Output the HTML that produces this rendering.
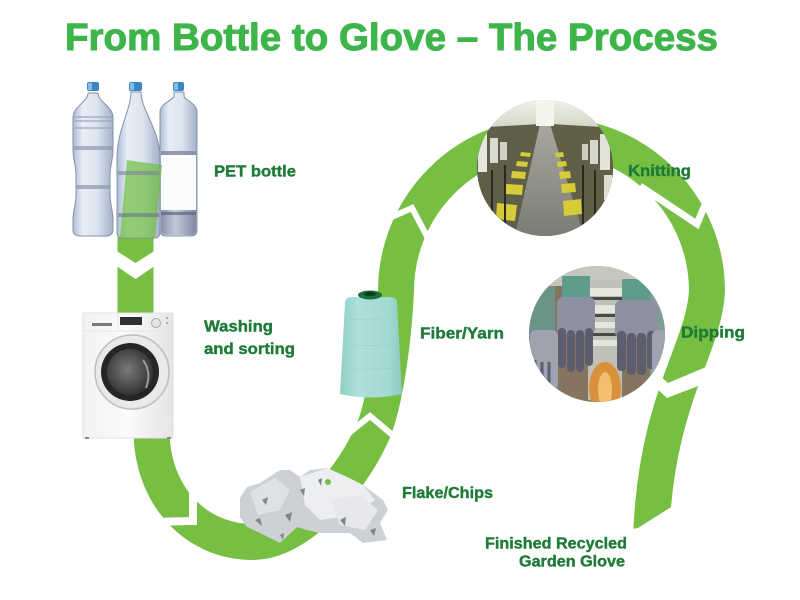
<!DOCTYPE html>
<html><head><meta charset="utf-8"><style>
html,body{margin:0;padding:0;background:#fff;}
svg{display:block;}
text{font-family:"Liberation Sans",Arial,sans-serif;font-weight:bold;}
</style></head><body>
<svg xmlns="http://www.w3.org/2000/svg" width="800" height="600" viewBox="0 0 800 600">
<defs>
 <linearGradient id="btl" x1="0" y1="0" x2="1" y2="0">
  <stop offset="0" stop-color="#aebdd3"/><stop offset="0.25" stop-color="#e7eef7"/><stop offset="0.6" stop-color="#dce4ef"/><stop offset="1" stop-color="#a3b1c8"/>
 </linearGradient>
 <linearGradient id="btlb" x1="0" y1="0" x2="1" y2="0">
  <stop offset="0" stop-color="#8791a8"/><stop offset="0.4" stop-color="#c3cad8"/><stop offset="1" stop-color="#7f8aa2"/>
 </linearGradient>
 <linearGradient id="yarn" x1="0" y1="0" x2="1" y2="0">
  <stop offset="0" stop-color="#8fcfc7"/><stop offset="0.3" stop-color="#aee0da"/><stop offset="0.8" stop-color="#a2d9d2"/><stop offset="1" stop-color="#8cc9c1"/>
 </linearGradient>
 <linearGradient id="mach" x1="0" y1="0" x2="1" y2="0">
  <stop offset="0" stop-color="#f2f2f2"/><stop offset="0.5" stop-color="#fbfbfb"/><stop offset="1" stop-color="#e4e4e4"/>
 </linearGradient>
 <radialGradient id="glass" cx="0.45" cy="0.45" r="0.6">
  <stop offset="0" stop-color="#7a7a7a"/><stop offset="1" stop-color="#2e2e2e"/>
 </radialGradient>
 <linearGradient id="ktop" x1="0" y1="0" x2="0" y2="1">
  <stop offset="0" stop-color="#f4f6ee"/><stop offset="1" stop-color="#d2d4c6"/>
 </linearGradient>
 <linearGradient id="floor" x1="0" y1="0" x2="0" y2="1">
  <stop offset="0" stop-color="#a8a8a0"/><stop offset="1" stop-color="#7a7a74"/>
 </linearGradient>
 <clipPath id="ck"><circle cx="545" cy="168" r="68"/></clipPath>
 <clipPath id="cd"><circle cx="597" cy="334" r="68"/></clipPath>
</defs>
<rect width="800" height="600" fill="#fff"/>

<!-- Green band -->
<path d="M135.5 226 V330 L151.5 400 V430 C151.5 495 195 542 253 542 C300 542 350 480 369 440 C383 415 393 350 396 291 A155.5 155.5 0 0 1 707 291 C704 350 655 400 651 540"
 fill="none" stroke="#76bf43" stroke-width="36"/>

<!-- White gaps (chevrons) -->
<polygon points="112,248 135.5,263 159,248 159,263 135.5,279 112,263" fill="#fff"/>
<polyline points="150,522 193,521 193,485" fill="none" stroke="#fff" stroke-width="8"/>
<polyline points="344,437 370,416 396,438" fill="none" stroke="#fff" stroke-width="6"/>
<polyline points="378,223 412,208 430,242" fill="none" stroke="#fff" stroke-width="6"/>
<polyline points="640,186 697,224 712,188" fill="none" stroke="#fff" stroke-width="7"/>
<polygon points="643,361 668,383 706,367 706,383 667,398 643,376" fill="#fff"/>
<polygon points="612,532 638,528 668,509 705,487 720,570 612,570" fill="#fff"/>

<!-- Bottles -->
<g stroke="#8390aa" stroke-width="1">
 <path d="M88 93 C88 102 73 106 73 118 L73 150 C73 160 76 165 76 175 L76 195 C76 205 73 210 73 220 L73 229 Q73 236 80 236 L106 236 Q113 236 113 229 L113 220 C113 210 110 205 110 195 L110 175 C110 165 113 160 113 150 L113 118 C113 106 98 102 98 93 Z" fill="url(#btl)"/>
 <path d="M131 92 C131 110 117 130 117 158 L117 232 Q117 238 123 238 L154 238 Q160 238 160 232 L160 158 C160 130 141 110 141 92 Z" fill="url(#btl)"/>
 <path d="M174 92 L174 96 C174 100 160 103 160 112 L160 230 Q160 236 166 236 L191 236 Q197 236 197 230 L197 112 C197 103 184 100 184 96 L184 92 Z" fill="url(#btl)"/>
</g>
<g stroke="#9aa6bc" stroke-width="1.2" fill="none">
 <line x1="74" y1="117" x2="112" y2="117"/><line x1="74" y1="121" x2="112" y2="121"/><line x1="74" y1="128" x2="112" y2="128"/>
</g>
<rect x="74" y="146" width="38" height="4" fill="#8f97a8" opacity="0.7"/>
<rect x="76" y="185" width="34" height="4" fill="#8f97a8" opacity="0.7"/>
<rect x="161" y="155" width="35" height="55" fill="#fbfcfe"/>
<rect x="161" y="151" width="35" height="4" fill="#7f889c" opacity="0.8"/>
<path d="M161 210 H196 V230 Q196 235 191 235 H166 Q161 235 161 230 Z" fill="url(#btlb)"/>
<rect x="161" y="212" width="35" height="3" fill="#5d6579" opacity="0.7"/>
<polygon points="127,160 162,165 155,238 120,238" fill="#6fbd3f" opacity="0.7"/>
<rect x="118" y="171" width="41" height="4" fill="#7d8798" opacity="0.6"/>
<rect x="118" y="213" width="41" height="4" fill="#6c7686" opacity="0.6"/>
<g>
 <rect x="87" y="82" width="12" height="9" rx="2" fill="#3c86c2"/><rect x="88" y="83" width="4" height="7" fill="#86bbe3"/>
 <rect x="129" y="82" width="13" height="9" rx="2" fill="#3c86c2"/><rect x="130" y="83" width="4" height="7" fill="#86bbe3"/>
 <rect x="173" y="82" width="11" height="9" rx="2" fill="#3c86c2"/><rect x="174" y="83" width="4" height="7" fill="#86bbe3"/>
</g>

<!-- Washing machine -->
<rect x="83" y="313" width="90" height="125" fill="url(#mach)" stroke="#e2e2e2" stroke-width="1"/>
<line x1="84" y1="331" x2="172" y2="331" stroke="#e6e6e6"/>
<line x1="118" y1="314" x2="118" y2="331" stroke="#e8e8e8"/>
<rect x="92" y="323" width="20" height="3" fill="#7a7a7a"/>
<rect x="120" y="317" width="22" height="8" fill="#303030"/>
<circle cx="156" cy="323" r="4.5" fill="#e4e4e4" stroke="#a8a8a8"/>
<circle cx="167" cy="318" r="1" fill="#999"/><circle cx="167" cy="323" r="1" fill="#999"/>
<circle cx="132" cy="372" r="37" fill="#e9e9e9" stroke="#bdbdbd" stroke-width="1.5"/>
<circle cx="130" cy="372" r="29" fill="#262626"/>
<circle cx="130" cy="372" r="23" fill="url(#glass)"/>
<path d="M143 360 Q152 372 146 388" stroke="#9a9a9a" stroke-width="2" fill="none"/>
<circle cx="158" cy="423" r="10" fill="none" stroke="#ececec"/>
<rect x="85" y="437" width="4" height="2" fill="#888"/><rect x="167" y="437" width="4" height="2" fill="#888"/>

<!-- Yarn cone -->
<path d="M345 303 Q345 297 352 297 L390 297 Q397 297 397 303 L402 394 Q371 401 340 394 Z" fill="url(#yarn)"/>
<g stroke="#98d2cb" stroke-width="0.8" opacity="0.8">
 <line x1="347" y1="320" x2="396" y2="318"/><line x1="346" y1="345" x2="398" y2="346"/><line x1="344" y1="370" x2="400" y2="368"/>
</g>
<ellipse cx="370" cy="295" rx="12" ry="4.5" fill="#1e6e3a"/>
<ellipse cx="370" cy="294" rx="6" ry="2.2" fill="#0c3a1e"/>

<!-- Flakes -->
<polygon points="240,498 247,487 260,483 280,470 290,470 300,477 310,470 327,468 347,477 363,485 383,500 388,510 380,523 387,540 363,543 350,533 320,533 307,530 297,527 280,543 260,533 247,527 240,517" fill="#cdd1d5"/>
<polygon points="300,477 327,468 347,477 363,485 375,500 355,515 320,520 305,505" fill="#eceef0"/>
<polygon points="250,492 275,478 290,490 280,510 258,515" fill="#dfe2e5"/>
<polygon points="330,500 360,495 378,510 365,530 340,525" fill="#e6e8eb"/>
<g fill="#80858b">
 <polygon points="262,500 268,497 266,505"/><polygon points="285,515 292,512 290,522"/><polygon points="340,520 346,517 345,526"/>
 <polygon points="300,490 305,488 304,496"/><polygon points="370,530 376,528 374,536"/><polygon points="255,520 260,518 262,526"/>
 <polygon points="318,480 322,478 321,486"/><polygon points="280,535 284,533 283,540"/>
</g>
<circle cx="328" cy="482" r="3" fill="#76bf43"/>

<!-- Knitting circle -->
<g clip-path="url(#ck)">
 <rect x="470" y="95" width="150" height="150" fill="#74735e"/>
 <rect x="470" y="95" width="150" height="35" fill="url(#ktop)"/>
 <polygon points="470,128 540,124 522,240 470,240" fill="#5f5e48"/>
 <polygon points="550,124 620,128 620,240 580,240" fill="#615f48"/>
 <polygon points="540,124 550,124 585,240 514,240" fill="url(#floor)"/>
 <rect x="478" y="132" width="9" height="40" fill="#e4e6de"/>
 <rect x="490" y="138" width="8" height="25" fill="#d8dad0"/>
 <rect x="500" y="142" width="7" height="18" fill="#cfd1c6"/>
 <rect x="600" y="134" width="10" height="36" fill="#e2e4dc"/>
 <rect x="590" y="140" width="8" height="24" fill="#d6d8ce"/>
 <rect x="582" y="144" width="6" height="16" fill="#cccdc2"/>
 <rect x="604" y="175" width="8" height="25" fill="#dcded4"/>
 <g fill="#d6cb38">
  <polygon points="497,203 517,205 515,221 496,219"/><polygon points="506,184 523,185 522,195 505,194"/>
  <polygon points="512,171 526,172 525,179 511,178"/><polygon points="517,161 528,162 527,167 516,166"/>
  <polygon points="521,152 531,153 530,157 520,156"/>
  <polygon points="563,201 581,199 582,214 564,216"/><polygon points="561,184 575,183 576,192 562,193"/>
  <polygon points="559,172 570,171 571,178 560,179"/><polygon points="557,162 566,161 567,166 558,167"/>
  <polygon points="555,153 563,152 564,157 556,157"/>
 </g>
 <g stroke="#2a2a20" stroke-width="2">
  <line x1="492" y1="170" x2="492" y2="235"/><line x1="505" y1="165" x2="505" y2="230"/><line x1="595" y1="170" x2="595" y2="235"/><line x1="583" y1="165" x2="583" y2="225"/>
 </g>
 <rect x="536" y="100" width="18" height="26" fill="#f4f6ee"/>
</g>

<!-- Dipping circle -->
<g clip-path="url(#cd)">
 <rect x="525" y="262" width="150" height="145" fill="#857560"/>
 <rect x="525" y="262" width="30" height="145" fill="#6a9488"/>
 <rect x="650" y="262" width="25" height="145" fill="#7aa092"/>
 <rect x="525" y="262" width="150" height="24" fill="#c6c6be"/>
 <rect x="588" y="280" width="34" height="120" fill="#c0c0b8"/>
 <g fill="#e6e6de"><rect x="588" y="288" width="34" height="8"/><rect x="588" y="305" width="34" height="8"/><rect x="588" y="322" width="34" height="6"/><rect x="588" y="340" width="34" height="6"/></g>
 <g fill="#4a4a44"><rect x="588" y="297" width="34" height="3"/><rect x="588" y="314" width="34" height="3"/><rect x="588" y="333" width="34" height="3"/></g>
 <ellipse cx="605" cy="388" rx="16" ry="26" fill="#d9913c"/>
 <ellipse cx="605" cy="390" rx="7" ry="18" fill="#f0c070"/>
 <!-- left glove -->
 <rect x="562" y="276" width="28" height="22" fill="#5f9c8e"/>
 <rect x="557" y="297" width="38" height="38" rx="6" fill="#8e90a2"/>
 <g fill="#5c5e6e"><rect x="558" y="328" width="8" height="40" rx="4"/><rect x="567" y="330" width="8" height="42" rx="4"/><rect x="576" y="330" width="8" height="42" rx="4"/><rect x="585" y="328" width="8" height="38" rx="4"/></g>
 <!-- right glove -->
 <rect x="622" y="279" width="28" height="22" fill="#5f9c8e"/>
 <rect x="615" y="300" width="43" height="38" rx="6" fill="#8e90a2"/>
 <g fill="#5c5e6e"><rect x="617" y="331" width="9" height="40" rx="4"/><rect x="627" y="333" width="9" height="42" rx="4"/><rect x="637" y="333" width="9" height="42" rx="4"/><rect x="647" y="331" width="9" height="38" rx="4"/></g>
 <!-- side small gloves -->
 <rect x="530" y="330" width="28" height="60" rx="6" fill="#a0a2b0"/>
 <g stroke="#5c5e6e" stroke-width="3"><line x1="535" y1="360" x2="535" y2="395"/><line x1="542" y1="362" x2="542" y2="398"/><line x1="549" y1="362" x2="549" y2="398"/></g>
 <rect x="652" y="330" width="20" height="60" rx="6" fill="#a0a2b0"/>
</g>

<!-- Labels -->
<text x="65" y="50" font-size="38" fill="#3db54a" stroke="#3db54a" stroke-width="1" textLength="653" lengthAdjust="spacingAndGlyphs">From Bottle to Glove – The Process</text>
<g fill="#1f7b38" stroke="#1f7b38" stroke-width="0.4" font-size="15.5">
 <text x="214" y="176.5" textLength="82" lengthAdjust="spacingAndGlyphs">PET bottle</text>
 <text x="628" y="176" textLength="63" lengthAdjust="spacingAndGlyphs">Knitting</text>
 <text x="204" y="331.5" textLength="69" lengthAdjust="spacingAndGlyphs">Washing</text>
 <text x="204" y="354" textLength="91" lengthAdjust="spacingAndGlyphs">and sorting</text>
 <text x="420" y="338.3" textLength="84" lengthAdjust="spacingAndGlyphs">Fiber/Yarn</text>
 <text x="681" y="337.3" textLength="64" lengthAdjust="spacingAndGlyphs">Dipping</text>
 <text x="402" y="498" textLength="91" lengthAdjust="spacingAndGlyphs">Flake/Chips</text>
 <text x="485" y="548.7" textLength="142" lengthAdjust="spacingAndGlyphs">Finished Recycled</text>
 <text x="519" y="566.7" textLength="106" lengthAdjust="spacingAndGlyphs">Garden Glove</text>
</g>
</svg>
</body></html>
